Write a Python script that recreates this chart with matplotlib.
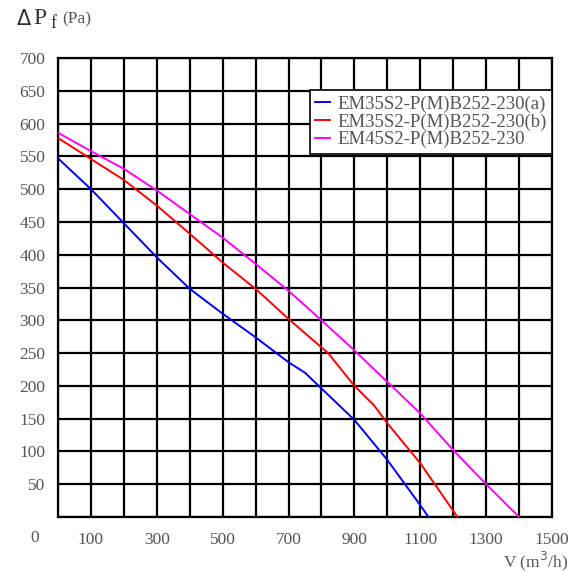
import matplotlib
matplotlib.use('Agg')
import matplotlib.pyplot as plt

# curve data
flow_a = [0, 100, 200, 300, 400, 500, 600, 700, 750, 800, 900, 1000, 1100, 1125]
pres_a = [547, 500, 448, 396, 348, 310, 274, 236, 220, 196, 148, 87, 18, 0]

flow_b = [0, 100, 200, 300, 400, 500, 600, 700, 820, 900, 960, 1000, 1100, 1213]
pres_b = [578, 546, 514, 475, 432, 388, 348, 302, 250, 200, 170, 143, 82, 0]

flow_c = [0, 100, 200, 300, 400, 500, 600, 700, 800, 900, 1000, 1100, 1200, 1300, 1400]
pres_c = [586, 558, 531, 498, 462, 426, 386, 345, 300, 254, 206, 158, 102, 50, 0]

names = ['EM35S2-P(M)B252-230(a)', 'EM35S2-P(M)B252-230(b)', 'EM45S2-P(M)B252-230']
colors = ['#0000ff', '#ff0000', '#ff00ff']

x_ticks = list(range(0, 1501, 100))
y_ticks = list(range(0, 701, 50))

plt.rcParams['font.family'] = ['Liberation Serif', 'DejaVu Serif']
txt = '#555555'

fig = plt.figure(figsize=(5.71, 5.72), dpi=100)
ax = fig.add_axes([58/571, 55/572, 494/571, 459/572])

for fx, py, c, n in zip([flow_a, flow_b, flow_c], [pres_a, pres_b, pres_c], colors, names):
    ax.plot(fx, py, color=c, lw=1.4, label=n, zorder=3)

ax.set_xlim(0, 1500)
ax.set_ylim(0, 700)
ax.set_xticks(x_ticks)
ax.set_yticks(y_ticks)
ax.set_xticklabels([str(v) if v % 200 == 100 else '' for v in x_ticks])
ax.set_yticklabels([str(v) if v > 0 else '' for v in y_ticks])
ax.tick_params(length=0, labelsize=12.5, labelcolor=txt)
ax.tick_params(axis='x', pad=11)
ax.tick_params(axis='y', pad=9)
ax.grid(True, color='black', lw=1.6)
ax.set_axisbelow(True)
for s in ax.spines.values():
    s.set_linewidth(1.6)
    s.set_color('black')

ax.text(-0.048, -0.045, '0', transform=ax.transAxes, ha='center', va='center',
        fontsize=12.5, color=txt)

leg = ax.legend(loc='upper right', bbox_to_anchor=(1.0, 0.93), borderaxespad=0,
                fontsize=13.5, handlelength=0.8, handletextpad=0.35,
                labelspacing=0.02, borderpad=0.3, fancybox=False,
                framealpha=1, edgecolor='black')
leg.get_frame().set_linewidth(1.2)
for t in leg.get_texts():
    t.set_color(txt)

fig.text(17/571, 1 - 19/572, 'Δ', fontsize=15, color='#333333', va='center',
         family='DejaVu Sans')
fig.text(33/571, 1 - 19/572, 'P', fontsize=17, color='#333333', va='center')
fig.text(50/571, 1 - 24/572, 'f', fontsize=13, color='#333333', va='center')
fig.text(62/571, 1 - 19/572, '(Pa)', fontsize=12.5, color=txt, va='center')
fig.text(568/571, 1 - 561/572, 'V (m$^3$/h)', fontsize=12.5, color=txt,
         ha='right', va='center')

fig.savefig('out.png', dpi=100)
